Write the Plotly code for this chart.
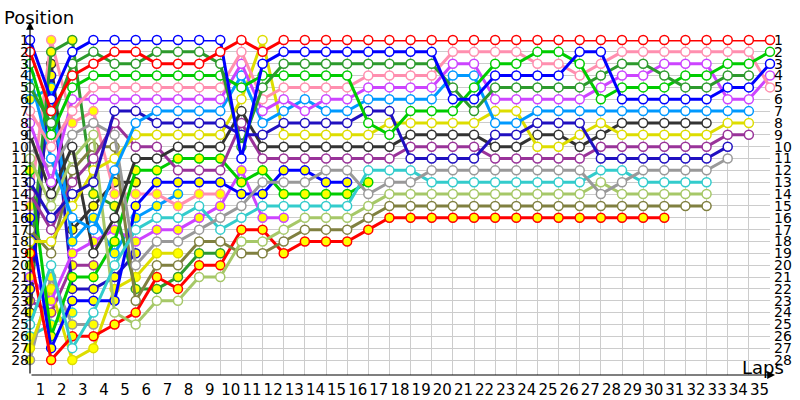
import plotly.graph_objects as go

# ---- data: running order (position 1 first) at the end of each lap ----
lap_00 = ["B","R","LG","LB","DG","LBy","PK","VI","DK","GR","LGR","LGy","NV","DP","PKy","By","OL","YE","Ry","DGy","VIy","NVy","DPy","DKy","CY","CYy","YEy","GRy"]
lap_01 = ["PKy","DGy","DKy","NVy","LBy","B","R","DG","LG","PK","LB","GR","VI","DK","LGR","NV","DP","YE","OL","CY","GRy","YEy","VIy","DPy","CYy","LGy","By","Ry"]
lap_02 = ["DGy","B","DG","R","LG","VI","PK","PKy","GR","DK","LGR","OL","DP","NV","YE","LB","DKy","LBy","VIy","DPy","LGy","NVy","By","CYy","GRy","Ry","CY","YEy"]
lap_03 = ["B","DG","R","LG","PK","VI","PKy","GR","LGR","OL","DP","YE","NV","DGy","DKy","LBy","LB","VIy","DK","DPy","LGy","NVy","By","CY","GRy","Ry","YEy"]
lap_04 = ["B","R","DG","LG","PK","VI","NV","DP","GR","OL","YE","LB","DKy","PKy","DGy","DK","VIy","LGy","LBy","CY","NVy","YEy","By","LGR","Ry"]
lap_05 = ["B","R","DG","LG","PK","VI","NV","LB","YE","DP","DK","LGy","DKy","PKy","By","LBy","CY","VIy","NVy","GR","YEy","DGy","OL","Ry","LGR"]
lap_06 = ["B","DG","R","LG","PK","VI","LB","NV","YE","DP","DK","LGy","By","PKy","LBy","CY","VIy","GR","YEy","OL","Ry","DGy","LGR"]
lap_07 = ["B","DG","R","LG","PK","VI","LB","NV","YE","DK","LGy","DP","By","LBy","PKy","CY","VIy","GR","YEy","OL","DGy","Ry","LGR"]
lap_08 = ["B","DG","R","LG","PK","VI","LB","NV","YE","DK","LGy","DP","By","PKy","CY","VIy","GR","OL","DGy","Ry","LGR"]
lap_09 = ["B","R","DG","LG","PK","VI","LB","NV","YE","DK","LGy","DP","By","PKy","VIy","GR","CY","OL","DGy","Ry","LGR"]
lap_10 = ["R","PK","VI","LB","LG","YE","DK","DP","NV","DG","B","VIy","LGy","By","GR","CY","Ry","LGR","OL"]
lap_11 = ["YE","R","B","LG","DG","PK","VI","LB","NV","DK","DP","LGy","GR","By","CY","VIy","Ry","LGR","OL"]
lap_12 = ["R","B","DG","LG","PK","VI","LB","NV","YE","DK","DP","By","GR","LGy","CY","VIy","LGR","OL","Ry"]
lap_13 = ["R","B","DG","LG","PK","LB","VI","NV","YE","DK","DP","By","GR","LGy","CY","LGR","OL","Ry"]
lap_14 = ["R","B","DG","LG","PK","VI","LB","NV","YE","DK","DP","GR","By","LGy","CY","LGR","OL","Ry"]
lap_15 = ["R","B","DG","LG","PK","VI","LB","NV","YE","DK","DP","GR","By","LGy","CY","LGR","OL","Ry"]
lap_16 = ["R","B","DG","PK","VI","LB","NV","LG","YE","DK","DP","CY","LGy","GR","LGR","OL","Ry"]
lap_17 = ["R","B","DG","PK","VI","LB","NV","YE","LG","DK","DP","CY","GR","LGR","OL","Ry"]
lap_18 = ["R","B","DG","PK","VI","LB","LG","YE","DK","DP","NV","CY","GR","LGR","OL","Ry"]
lap_19 = ["R","B","DG","PK","VI","LB","LG","YE","DK","DP","NV","GR","CY","LGR","OL","Ry"]
lap_20 = ["R","PK","VI","LB","DG","B","LG","YE","DK","DP","NV","GR","CY","LGR","OL","Ry"]
lap_21 = ["R","PK","VI","LB","LG","B","DG","YE","DK","DP","NV","GR","CY","LGR","OL","Ry"]
lap_22 = ["R","PK","LG","B","DG","VI","YE","LB","NV","DK","DP","GR","CY","LGR","OL","Ry"]
lap_23 = ["R","PK","LG","B","DG","VI","YE","LB","NV","DK","DP","GR","CY","LGR","OL","Ry"]
lap_24 = ["R","LG","PK","B","DG","VI","LB","NV","DK","YE","DP","GR","CY","LGR","OL","Ry"]
lap_25 = ["R","LG","PK","B","DG","VI","LB","NV","DK","YE","DP","GR","CY","LGR","OL","Ry"]
lap_26 = ["R","B","LG","PK","DG","VI","LB","NV","YE","DK","DP","GR","CY","LGR","OL","Ry"]
lap_27 = ["R","B","PK","DG","VI","LG","LB","YE","DK","DP","NV","CY","LGR","GR","OL","Ry"]
lap_28 = ["R","PK","DG","VI","LG","B","LB","DK","YE","DP","NV","CY","GR","LGR","OL","Ry"]
lap_29 = ["R","PK","DG","VI","LG","B","LB","DK","YE","DP","NV","GR","CY","LGR","OL","Ry"]
lap_30 = ["R","PK","VI","DG","LG","B","LB","DK","YE","DP","NV","GR","CY","LGR","OL","Ry"]
lap_31 = ["R","PK","VI","LG","DG","B","LB","DK","YE","DP","NV","GR","CY","LGR","OL"]
lap_32 = ["R","PK","VI","LG","DG","B","LB","DK","YE","DP","NV","GR","CY","LGR","OL"]
lap_33 = ["R","PK","LG","DG","B","VI","LB","YE","DP","NV","GR"]
lap_34 = ["R","PK","LG","DG","B","VI","LB","YE","DP"]
lap_35 = ["R","LG","B","VI","PK"]

running_order = [lap_00, lap_01, lap_02, lap_03, lap_04, lap_05, lap_06, lap_07, lap_08,
                 lap_09, lap_10, lap_11, lap_12, lap_13, lap_14, lap_15, lap_16, lap_17,
                 lap_18, lap_19, lap_20, lap_21, lap_22, lap_23, lap_24, lap_25, lap_26,
                 lap_27, lap_28, lap_29, lap_30, lap_31, lap_32, lap_33, lap_34, lap_35]

laps = list(range(36))
lap_labels = [str(i) for i in range(1, 36)]
positions = list(range(1, 29))
position_labels = [str(p) for p in positions]

# ---- styles ----
base_colors = {
    "R": "#FF0000", "B": "#0000FF", "DG": "#2D9A2D", "LG": "#00CC00", "PK": "#FF8FAF",
    "VI": "#CC44FF", "LB": "#0099FF", "NV": "#2010C0", "YE": "#DDDD00", "DK": "#333333",
    "DP": "#993399", "GR": "#999999", "CY": "#33CCCC", "LGR": "#A6C868", "OL": "#808040",
}
white_drivers = ["R","B","DG","LG","PK","VI","LB","NV","YE","DK","DP","GR","CY","LGR","OL"]
yellow_drivers = ["Ry","By","DGy","LGy","PKy","VIy","LBy","NVy","YEy","DKy","DPy","GRy","CYy"]

def base(code):
    return code[:-1] if code not in base_colors else code

fig = go.Figure()

draw_order = list(reversed(yellow_drivers)) + list(reversed(white_drivers))
for drv in draw_order:
    xs, ys = [], []
    for lap, order in zip(laps, running_order):
        if drv in order:
            xs.append(lap)
            ys.append(order.index(drv) + 1)
    col = base_colors[base(drv)]
    fill = "#FFFF00" if drv in yellow_drivers else "#FFFFFF"
    fig.add_trace(go.Scatter(
        x=xs, y=ys, mode="lines+markers", cliponaxis=False,
        line=dict(color=col, width=3),
        marker=dict(symbol="circle", size=9, color=fill, line=dict(color=col, width=1.5)),
        hoverinfo="skip", showlegend=False,
    ))

# helper trace so the right-hand position axis is rendered
fig.add_trace(go.Scatter(x=laps[:1], y=positions[:1], yaxis="y2", mode="markers",
                         marker=dict(opacity=0), hoverinfo="skip", showlegend=False))

y_top = 1
y_bottom = 1 + 335 / (320 / 27)
tick_font = dict(family="DejaVu Sans", size=14, color="#000000")

fig.update_layout(
    width=800, height=400,
    margin=dict(l=30, r=30, t=40, b=25),
    paper_bgcolor="#FFFFFF", plot_bgcolor="#FFFFFF",
    xaxis=dict(range=[0, 35], tickmode="array",
               tickvals=[i - 0.5 for i in range(1, 36)], ticktext=lap_labels,
               showgrid=False, zeroline=False, showline=False, ticks="", ticklabelstandoff=4,
               tickfont=dict(family="DejaVu Sans", size=15, color="#000000"), automargin=False,
               minor=dict(tick0=0, dtick=1, showgrid=True, gridcolor="#CCCCCC", gridwidth=1, ticks="")),
    yaxis=dict(range=[y_bottom, y_top], tickmode="array", tickvals=positions, ticktext=position_labels,
               showgrid=True, gridcolor="#CCCCCC", gridwidth=1, zeroline=False, showline=False,
               ticks="", tickfont=tick_font, automargin=False),
    yaxis2=dict(range=[y_bottom, y_top], overlaying="y", side="right", tickmode="array",
                tickvals=positions, ticktext=position_labels, showgrid=False, zeroline=False,
                showline=False, ticks="", ticklabelstandoff=3, tickfont=tick_font, automargin=False),
    annotations=[
        dict(text="Position", xref="paper", yref="paper", x=-28 / 740, y=1 + 22 / 335,
             xanchor="left", yanchor="middle", showarrow=False,
             font=dict(family="DejaVu Sans", size=18, color="#000000")),
        dict(text="Laps", xref="paper", yref="paper", x=733 / 740, y=8 / 335,
             xanchor="center", yanchor="middle", showarrow=False,
             font=dict(family="DejaVu Sans", size=18, color="#000000")),
        dict(text="", xref="paper", yref="paper", x=0, y=1 + 18 / 335, ax=0, ay=353,
             showarrow=True, arrowhead=2, arrowsize=1.3, arrowwidth=1.2, arrowcolor="#000000", standoff=0),
        dict(text="", xref="paper", yref="paper", x=1 + 5 / 740, y=0, ax=-745, ay=0,
             showarrow=True, arrowhead=2, arrowsize=1.3, arrowwidth=1.2, arrowcolor="#000000", standoff=0),
    ],
)

fig.write_html("out.html", config={"displayModeBar": False},
               post_script="document.body.style.margin='0';")
